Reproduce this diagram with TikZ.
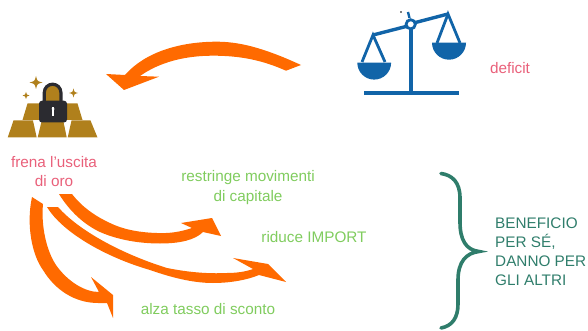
\documentclass[tikz,border=0pt]{standalone}
\usepackage{fontspec}
\setmainfont{Liberation Sans}
\definecolor{arancio}{HTML}{FF6A00}
\definecolor{oro}{HTML}{B0801C}
\definecolor{lucchetto}{HTML}{2B2B30}
\definecolor{bilancia}{HTML}{1164A8}
\definecolor{rosa}{HTML}{E9607A}
\definecolor{verde}{HTML}{80CC5E}
\definecolor{petrolio}{HTML}{2F7D6B}
\begin{document}
\begin{tikzpicture}[x=1pt,y=-1pt,
    freccia/.style={fill=arancio,draw=none},
    lingotto/.style={fill=oro,draw=none},
    piatto/.style={fill=bilancia,draw=none},
    asta/.style={draw=bilancia,line width=3.4pt},
    rosso/.style={text=rosa,font=\fontsize{15.3}{19}\selectfont,align=center,inner sep=0pt},
    chiaro/.style={text=verde,font=\fontsize{15.3}{20}\selectfont,align=center,inner sep=0pt},
    scuro/.style={text=petrolio,font=\fontsize{15.3}{19}\selectfont,align=left,inner sep=0pt}]
  \useasboundingbox (0,0) rectangle (588,331);

  % bilancia
  \draw[asta] (364,93) -- (459,93);
  \draw[asta] (411,29) -- (411,93);
  \draw[asta] (373,35) -- (406,26.5);
  \draw[asta] (415.5,22.5) -- (448,14);
  \draw[draw=bilancia,line width=2.4pt] (408,12) -- (409.5,18);
  \draw[draw=bilancia,line width=2.8pt] (362,62) -- (373,35) -- (385,62);
  \draw[draw=bilancia,line width=2.8pt] (437,43) -- (448,14) -- (460,43);
  \draw[draw=bilancia,line width=2.8pt] (410.7,24.3) circle (4.6);
  \fill[piatto] (357.3,62.7) arc[start angle=180,end angle=0,radius=16.9,y=-1pt] -- cycle;
  \fill[piatto] (432,42.7) arc[start angle=180,end angle=0,radius=17,y=-1pt] -- cycle;
  \fill[black] (401,12) circle (.8);

  % lingotti
  \fill[lingotto] (7.7,137.5) -- (13.5,120.5) -- (33,120.5) -- (36.7,137.5) -- cycle;
  \fill[lingotto] (37.7,137.5) -- (41.5,121.5) -- (63.5,121.5) -- (66.7,137.5) -- cycle;
  \fill[lingotto] (67.7,137.5) -- (71.5,120.5) -- (90.5,120.5) -- (97.5,137.5) -- cycle;
  \fill[lingotto] (22.5,120) -- (27.5,103.5) -- (45,103.5) -- (45,120) -- cycle;
  \fill[lingotto] (60,120) -- (60,103.5) -- (77.5,103.5) -- (82.5,120) -- cycle;
  \fill[white] (33.5,121) -- (40,121) -- (37.5,134) -- cycle;
  \fill[white] (63.5,121) -- (71,121) -- (67,134) -- cycle;

  % lucchetto
  \fill[lingotto] (44,102) -- (44,92) arc[start angle=180,end angle=360,radius=8.5] -- (61,102) -- cycle;
  \draw[draw=lucchetto,line width=3.2pt] (44.3,102) -- (44.3,92.5) arc[start angle=180,end angle=360,radius=8.3] -- (60.9,102);
  \fill[lucchetto,rounded corners=3pt] (39,100.7) rectangle (67,122.5);
  \fill[white] (52.3,107.5) rectangle (53.9,116);
  \fill[white] (53.1,109) circle (1.6);

  % stelline
  \foreach \cx/\cy/\rr in {36/82.5/6.5, 26/95.5/3.5, 73.5/93/4.5}
    \fill[oro] (\cx-\rr,\cy) .. controls (\cx-.2*\rr,\cy-.2*\rr) .. (\cx,\cy-\rr)
      .. controls (\cx+.2*\rr,\cy-.2*\rr) .. (\cx+\rr,\cy)
      .. controls (\cx+.2*\rr,\cy+.2*\rr) .. (\cx,\cy+\rr)
      .. controls (\cx-.2*\rr,\cy+.2*\rr) .. cycle;

  % frecce
  \fill[freccia] (301,65) .. controls (262,47) and (238,41.7) .. (216.7,41.7)
    .. controls (180,41.7) and (145,52) .. (125,75) -- (106,74) -- (124,90) -- (159,76.7) -- (140,76)
    .. controls (160,62) and (185,55.7) .. (213,55.7)
    .. controls (240,55.7) and (262,60) .. (286,70.7) -- cycle;
  \fill[freccia] (59,194) .. controls (70,212) and (85,225) .. (100,232)
    .. controls (118,240) and (140,243.5) .. (160,243.5)
    .. controls (180,243.5) and (195,240) .. (203,232) -- (221,236) -- (212,218) -- (181,223) -- (192,228)
    .. controls (180,232) and (170,233.5) .. (157,233)
    .. controls (138,232.5) and (122,229) .. (110,223)
    .. controls (95,216) and (82,207) .. (72,194) -- cycle;
  \fill[freccia] (47,207) .. controls (62,232) and (105,257) .. (150,270)
    .. controls (170,277) and (192,283) .. (213,283)
    .. controls (230,283) and (247,280) .. (259,275) -- (286,282) -- (268,264) -- (233,258) -- (253,269)
    .. controls (245,272) and (235,273) .. (227,273)
    .. controls (207,274) and (187,272) .. (167,268)
    .. controls (125,255) and (80,232) .. (58,207) -- cycle;
  \fill[freccia] (32,197) .. controls (26,225) and (32,255) .. (43,270)
    .. controls (55,290) and (75,303) .. (98,303) -- (107,303) -- (113,318) -- (113,295) -- (91,277) -- (99,292)
    .. controls (85,292) and (68,282) .. (56,265)
    .. controls (46,250) and (41,225) .. (43,204) -- cycle;

  % graffa
  \draw[draw=petrolio,line width=3.6pt,line cap=round]
    (441,173.5) .. controls (452,175) and (460,182) .. (460,198)
    -- (460,222) .. controls (460,240) and (466,250) .. (479,251.5)
    .. controls (466,253) and (458,262) .. (458,280)
    -- (458,304) .. controls (458,318) and (452,326) .. (441,328);

  % testi
  \node[rosso] (deficit) at (510,68) {deficit};
  \node[rosso] (frena) at (54,171.5) {frena l’uscita\\di oro};
  \node[chiaro] (restringe) at (248,188) {restringe movimenti\\di capitale};
  \node[chiaro] (riduce) at (314,237) {riduce IMPORT};
  \node[chiaro] (alza) at (208,309) {alza tasso di sconto};
  \node[scuro,anchor=west] (beneficio) at (495,252) {BENEFICIO\\PER SÉ,\\DANNO PER\\GLI ALTRI};
\end{tikzpicture}
\end{document}
